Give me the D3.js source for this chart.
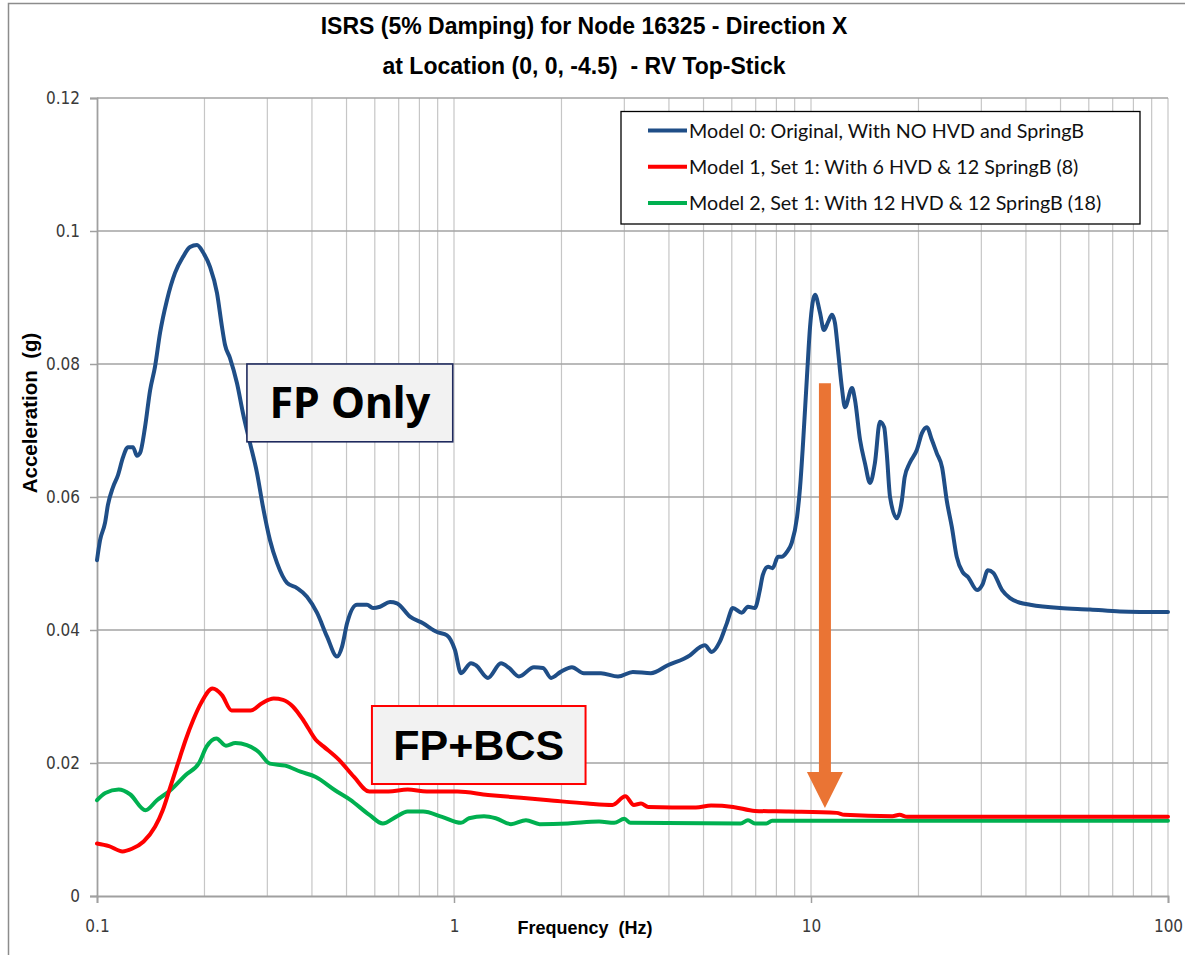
<!DOCTYPE html>
<html>
<head>
<meta charset="utf-8">
<script src="https://cdn.jsdelivr.net/npm/d3@7"></script>
<style>
  body { margin: 0; background: #fff; }
  svg { display: block; }
  text { white-space: pre; }
  .tick text { font-family: "DejaVu Sans Condensed", "DejaVu Sans", sans-serif; font-size: 17px; fill: #3a3a3a; }
</style>
</head>
<body>
<svg id="chart" width="1185" height="955"></svg>
<script>
// ---- data ----
const model0Freq = [0.1, 0.102, 0.1053, 0.1073, 0.1109, 0.1145, 0.1183, 0.1221, 0.1261, 0.1294, 0.132, 0.1363, 0.1408, 0.1454, 0.1502, 0.157, 0.1654, 0.1741, 0.1822, 0.1906, 0.1981, 0.2073, 0.2168, 0.2239, 0.2283, 0.2358, 0.2467, 0.2564, 0.2683, 0.2807, 0.2917, 0.3052, 0.3193, 0.3406, 0.3633, 0.3874, 0.4132, 0.441, 0.4703, 0.4858, 0.5017, 0.535, 0.5706, 0.5932, 0.6205, 0.6618, 0.6923, 0.753, 0.8189, 0.8961, 0.9559, 1.006, 1.046, 1.116, 1.152, 1.245, 1.354, 1.426, 1.52, 1.675, 1.775, 1.87, 1.99, 2.14, 2.31, 2.58, 2.88, 3.17, 3.56, 3.97, 4.58, 4.88, 5.04, 5.27, 5.55, 5.81, 6.04, 6.40, 6.66, 6.96, 7.19, 7.33, 7.58, 7.81, 8.08, 8.28, 8.55, 8.83, 9.14, 9.32, 9.50, 9.74, 9.94, 10.26, 10.6, 10.87, 11.16, 11.45, 11.67, 11.9, 12.2, 12.45, 13.03, 13.28, 13.72, 14.16, 14.63, 15.1, 15.6, 16.03, 16.3, 16.65, 17.4, 17.97, 18.3, 18.9, 19.8, 20.45, 21.1, 21.8, 22.5, 23.3, 24.0, 24.8, 25.6, 26.6, 27.5, 29.2, 30.2, 31.3, 32.4, 34.3, 36.1, 38.5, 41.1, 49.8, 60.5, 73.3, 100];
const model0Acc = [0.0505, 0.0535, 0.0561, 0.0588, 0.0615, 0.0633, 0.066, 0.0675, 0.0675, 0.0662, 0.0666, 0.0705, 0.076, 0.0796, 0.0847, 0.0896, 0.0937, 0.0961, 0.0976, 0.0979, 0.0968, 0.0946, 0.0907, 0.0856, 0.0829, 0.0809, 0.0771, 0.0726, 0.0681, 0.0636, 0.0585, 0.0535, 0.0501, 0.0471, 0.0463, 0.045, 0.0426, 0.039, 0.036, 0.0375, 0.041, 0.0438, 0.0438, 0.0433, 0.0435, 0.0442, 0.044, 0.042, 0.041, 0.0397, 0.0392, 0.037, 0.0335, 0.035, 0.0347, 0.0328, 0.035, 0.0343, 0.033, 0.0344, 0.0343, 0.0328, 0.0337, 0.0344, 0.0335, 0.0335, 0.033, 0.0337, 0.0335, 0.0347, 0.0362, 0.0374, 0.0377, 0.0367, 0.0382, 0.041, 0.0433, 0.0426, 0.0435, 0.0433, 0.046, 0.0483, 0.0495, 0.0493, 0.051, 0.051, 0.0517, 0.0531, 0.057, 0.0615, 0.0681, 0.078, 0.0856, 0.0904, 0.0877, 0.0851, 0.0863, 0.0874, 0.0862, 0.0821, 0.0765, 0.0735, 0.0764, 0.0746, 0.0686, 0.0651, 0.0621, 0.0651, 0.0713, 0.0705, 0.0666, 0.06, 0.0568, 0.0595, 0.063, 0.0651, 0.0671, 0.0696, 0.0705, 0.0686, 0.0666, 0.0644, 0.0595, 0.0555, 0.051, 0.0487, 0.048, 0.046, 0.0468, 0.049, 0.0486, 0.046, 0.0448, 0.0441, 0.0438, 0.0433, 0.0431, 0.0428, 0.0427];

const model1Freq = [0.1, 0.108, 0.1179, 0.1253, 0.1351, 0.1454, 0.1528, 0.1605, 0.1708, 0.1772, 0.1861, 0.1956, 0.2106, 0.2239, 0.2382, 0.2695, 0.2899, 0.3126, 0.3319, 0.3536, 0.3808, 0.41, 0.4307, 0.4757, 0.5248, 0.5795, 0.6555, 0.7414, 0.839, 1.022, 1.245, 1.444, 1.845, 2.366, 2.778, 3.02, 3.19, 3.34, 3.5, 4.76, 5.25, 6.05, 6.97, 8.66, 11.8, 12.4, 16.9, 17.7, 18.6, 100];
const model1Acc = [0.0079, 0.0075, 0.0067, 0.0071, 0.0082, 0.0104, 0.0129, 0.0164, 0.0209, 0.0235, 0.0265, 0.029, 0.0312, 0.0302, 0.0279, 0.0279, 0.029, 0.0297, 0.0295, 0.0285, 0.0262, 0.0235, 0.0225, 0.0205, 0.0179, 0.0157, 0.0157, 0.016, 0.0157, 0.0157, 0.0152, 0.0149, 0.0144, 0.0139, 0.0137, 0.015, 0.0137, 0.0139, 0.0134, 0.0133, 0.0136, 0.0134, 0.0128, 0.0127, 0.0125, 0.0122, 0.012, 0.0122, 0.0119, 0.0119];

const model2Freq = [0.1, 0.1055, 0.115, 0.1237, 0.1367, 0.1472, 0.1605, 0.1772, 0.1931, 0.2029, 0.2159, 0.2297, 0.2442, 0.2629, 0.2832, 0.305, 0.3367, 0.3716, 0.41, 0.4642, 0.5113, 0.5795, 0.6318, 0.688, 0.7414, 0.819, 0.9256, 1.046, 1.102, 1.214, 1.309, 1.444, 1.591, 1.738, 2.086, 2.548, 2.81, 3.0, 3.12, 6.35, 6.66, 6.97, 7.5, 7.78, 100];
const model2Acc = [0.0144, 0.0155, 0.016, 0.0153, 0.0129, 0.0144, 0.0159, 0.0182, 0.02, 0.0225, 0.0237, 0.0226, 0.023, 0.0227, 0.0217, 0.0199, 0.0196, 0.0187, 0.0179, 0.0159, 0.0145, 0.0122, 0.0109, 0.0119, 0.0127, 0.0127, 0.0119, 0.011, 0.0117, 0.012, 0.0117, 0.0108, 0.0114, 0.0108, 0.0109, 0.0112, 0.011, 0.0116, 0.011, 0.0109, 0.0114, 0.0109, 0.0109, 0.0113, 0.0113];

const seriesNames = [
  'Model 0: Original, With NO HVD and SpringB',
  'Model 1, Set 1: With 6 HVD & 12 SpringB (8)',
  'Model 2, Set 1: With 12 HVD & 12 SpringB (18)'
];
const seriesColors = ['#1f4e87', '#ff0000', '#00b050'];

const yTicks = [0, 0.02, 0.04, 0.06, 0.08, 0.1, 0.12];
const xTicks = [0.1, 1, 10, 100];
const titleLines = ['ISRS (5% Damping) for Node 16325 - Direction X', 'at Location (0, 0, -4.5)  - RV Top-Stick'];

// annotations (data coordinates)
const fpOnlyBox = { f0: 0.263, f1: 0.992, a0: 0.0683, a1: 0.080, label: 'FP Only' };
const fpBcsBox = { f0: 0.589, f1: 2.336, a0: 0.01684, a1: 0.02857, label: 'FP+BCS' };
const arrow = { f: 10.94, from: 0.0771, to: 0.01323 };

// ---- layout ----
const width = 1185, height = 955;
const margin = { top: 98, right: 17, bottom: 59, left: 97 };

const svg = d3.select('#chart');

// outer chart border
svg.append('rect')
  .attr('x', 8.5).attr('y', 3.5)
  .attr('width', width + 10).attr('height', height + 10)
  .attr('fill', 'none').attr('stroke', '#8c8c8c').attr('stroke-width', 1.5);

const x = d3.scaleLog().domain([0.1, 100]).range([margin.left, width - margin.right]);
const y = d3.scaleLinear().domain([0, 0.12]).range([height - margin.bottom, margin.top]);

// vertical grid: every 1..9 of each decade
const vGrid = [];
[0.1, 1, 10].forEach(dec => d3.range(1, 10).forEach(k => vGrid.push(dec * k)));
vGrid.push(100);

svg.append('g').selectAll('line')
  .data(vGrid.filter(v => v > 0.1))
  .enter().append('line')
  .attr('x1', d => x(d)).attr('x2', d => x(d))
  .attr('y1', y(0.12)).attr('y2', y(0))
  .attr('stroke', '#c6c6c6').attr('stroke-width', 1.2);

svg.append('g').selectAll('line')
  .data(yTicks.filter(v => v > 0))
  .enter().append('line')
  .attr('x1', x(0.1)).attr('x2', x(100))
  .attr('y1', d => y(d)).attr('y2', d => y(d))
  .attr('stroke', '#a3a3a3').attr('stroke-width', 1.6);

// axes
const yAxis = svg.append('g')
  .attr('transform', `translate(${margin.left},0)`)
  .call(d3.axisLeft(y).tickValues(yTicks).tickSize(7).tickPadding(10)
    .tickFormat(d => d === 0 ? '0' : String(+d.toFixed(2))));
const xAxis = svg.append('g')
  .attr('transform', `translate(0,${height - margin.bottom})`)
  .call(d3.axisBottom(x).tickValues(xTicks).tickSize(7).tickPadding(17)
    .tickFormat(d => String(d)));
[yAxis, xAxis].forEach(a => {
  a.select('.domain').attr('stroke', '#a0a0a0').attr('stroke-width', 1.8);
  a.selectAll('.tick line').attr('stroke', '#a0a0a0').attr('stroke-width', 1.5);
});

// curves
const line = d3.line()
  .x(d => x(d[0]))
  .y(d => y(d[1]))
  .curve(d3.curveMonotoneX);

const series = [
  d3.zip(model0Freq, model0Acc),
  d3.zip(model1Freq, model1Acc),
  d3.zip(model2Freq, model2Acc)
];
[0, 2, 1].forEach(i => {
  svg.append('path')
    .datum(series[i])
    .attr('d', line)
    .attr('fill', 'none')
    .attr('stroke', seriesColors[i])
    .attr('stroke-width', 4)
    .attr('stroke-linejoin', 'round')
    .attr('stroke-linecap', 'round');
});

// titles
svg.append('g').selectAll('text')
  .data(titleLines)
  .enter().append('text')
  .attr('x', 584)
  .attr('y', (d, i) => 34 + i * 40)
  .attr('text-anchor', 'middle')
  .style('font-family', '"Liberation Sans", Arial, sans-serif')
  .style('font-weight', 'bold')
  .style('font-size', '23px')
  .style('fill', '#000')
  .text(d => d);

svg.append('text')
  .attr('x', 585).attr('y', 934)
  .attr('text-anchor', 'middle')
  .style('font-family', '"Liberation Sans", Arial, sans-serif')
  .style('font-weight', 'bold')
  .style('font-size', '18px')
  .text('Frequency  (Hz)');

svg.append('text')
  .attr('transform', 'translate(37,413) rotate(-90)')
  .attr('text-anchor', 'middle')
  .style('font-family', '"Liberation Sans", Arial, sans-serif')
  .style('font-weight', 'bold')
  .style('font-size', '20.5px')
  .text('Acceleration  (g)');

// legend
const legend = svg.append('g');
legend.append('rect')
  .attr('x', 621).attr('y', 111.5)
  .attr('width', 519).attr('height', 112.5)
  .attr('fill', '#fff').attr('stroke', '#000').attr('stroke-width', 1.3);
seriesNames.forEach((name, i) => {
  const ly = 130.5 + i * 36.3;
  legend.append('line')
    .attr('x1', 648).attr('x2', 687).attr('y1', ly).attr('y2', ly)
    .attr('stroke', seriesColors[i]).attr('stroke-width', 4);
  legend.append('text')
    .attr('x', 689).attr('y', ly).attr('dy', '0.36em')
    .style('font-family', 'Lato, "Liberation Sans", sans-serif')
    .style('font-size', '19.7px')
    .style('fill', '#111')
    .text(name);
});

// annotation boxes
function labelBox(b, stroke, strokeW, font) {
  const x0 = x(b.f0), x1 = x(b.f1), y0 = y(b.a1), y1 = y(b.a0);
  svg.append('rect')
    .attr('x', x0).attr('y', y0)
    .attr('width', x1 - x0).attr('height', y1 - y0)
    .attr('fill', '#f2f2f2').attr('stroke', stroke).attr('stroke-width', strokeW);
  svg.append('text')
    .attr('x', (x0 + x1) / 2).attr('y', (y0 + y1) / 2).attr('dy', '0.36em')
    .attr('text-anchor', 'middle')
    .style('font-family', font)
    .style('font-weight', 'bold')
    .style('font-size', '43px')
    .style('fill', '#000')
    .text(b.label);
}
labelBox(fpOnlyBox, '#1f2a5e', 1.6, '"Noto Sans", "Open Sans", sans-serif');
labelBox(fpBcsBox, '#ff0000', 2, '"Liberation Sans", Arial, sans-serif');

// orange arrow
const ax = x(arrow.f), aTop = y(arrow.from), aTip = y(arrow.to);
const headLen = 36, shaftW = 12, headW = 36;
svg.append('path')
  .attr('d', `M${ax - shaftW / 2},${aTop} L${ax + shaftW / 2},${aTop} L${ax + shaftW / 2},${aTip - headLen} L${ax + headW / 2},${aTip - headLen} L${ax},${aTip} L${ax - headW / 2},${aTip - headLen} L${ax - shaftW / 2},${aTip - headLen} Z`)
  .attr('fill', '#ea7434');
</script>
</body>
</html>
